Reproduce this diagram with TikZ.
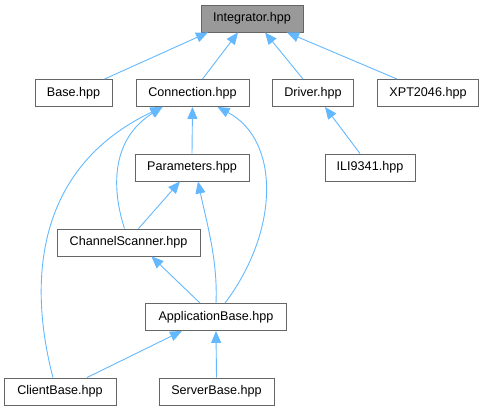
\documentclass[tikz,border=0pt]{standalone}
\usepackage{fontspec}
\setmainfont{Liberation Sans}
\usetikzlibrary{arrows.meta}

\definecolor{edgeblue}{HTML}{63B8FF}
\definecolor{boxgray}{HTML}{666666}
\definecolor{rootfill}{HTML}{999999}

\begin{document}
\begin{tikzpicture}[x=1pt, y=-1pt, >={Triangle[length=12pt, width=10pt, fill=edgeblue]}]

  % Styles for file boxes and include edges
  \tikzset{
    filebox/.style={draw=boxgray, line width=0.9pt, fill=white, minimum height=27pt,
      inner sep=0pt, font=\fontsize{12.6}{15}\selectfont},
    rootbox/.style={filebox, fill=rootfill},
    dep/.style={->, draw=edgeblue, line width=0.9pt}
  }

  \useasboundingbox (0,0) rectangle (484,411);

  % 1. File nodes
  \node[rootbox, minimum width=102pt] (integ) at (252,18.5) {Integrator.hpp};
  \node[filebox, minimum width=77pt] (base) at (73.5,93) {Base.hpp};
  \node[filebox, minimum width=113pt] (conn) at (192.5,93) {Connection.hpp};
  \node[filebox, minimum width=81pt] (driver) at (313,93) {Driver.hpp};
  \node[filebox, minimum width=101pt] (xpt) at (428,93) {XPT2046.hpp};
  \node[filebox, minimum width=114pt] (params) at (192,167.5) {Parameters.hpp};
  \node[filebox, minimum width=90pt] (ili) at (370,167.5) {ILI9341.hpp};
  \node[filebox, minimum width=143pt] (scanner) at (128.5,242.5) {ChannelScanner.hpp};
  \node[filebox, minimum width=141pt] (appbase) at (216,317) {ApplicationBase.hpp};
  \node[filebox, minimum width=112pt] (client) at (60,391.5) {ClientBase.hpp};
  \node[filebox, minimum width=115pt] (server) at (216.5,391.5) {ServerBase.hpp};

  % 2. Edges into Integrator.hpp
  \draw[dep] ([xshift=31pt]base.north) -- ([xshift=-44pt]integ.south);
  \draw[dep] ([xshift=10pt]conn.north) -- ([xshift=-14pt]integ.south);
  \draw[dep] ([xshift=-10pt]driver.north) -- ([xshift=13pt]integ.south);
  \draw[dep] ([xshift=-31pt]xpt.north) -- ([xshift=35pt]integ.south);

  % 3. Second level
  \draw[dep] ([xshift=-10pt]ili.north) -- ([xshift=12pt]driver.south);
  \draw[dep] (params.north) -- (conn.south);
  \draw[dep] ([xshift=-4pt]scanner.north) .. controls (112,190) and (110,140) .. ([xshift=-30pt]conn.south);
  \draw[dep] ([xshift=10pt]scanner.north) -- ([xshift=-12pt]params.south);

  % 4. ApplicationBase.hpp
  \draw[dep] (appbase.north) .. controls (218,260) and (206,220) .. ([xshift=6pt]params.south);
  \draw[dep] ([xshift=9pt]appbase.north) .. controls (280,230) and (280,140) .. ([xshift=25pt]conn.south);
  \draw[dep] ([xshift=-16pt]appbase.north) -- ([xshift=23pt]scanner.south);

  % 5. Bottom row
  \draw[dep] ([xshift=-7pt]client.north) .. controls (30,290) and (30,170) .. ([xshift=-30pt]conn.south);
  \draw[dep] ([xshift=27pt]client.north) -- ([xshift=-34pt]appbase.south);
  \draw[dep] (server.north) -- (appbase.south);

\end{tikzpicture}
\end{document}
